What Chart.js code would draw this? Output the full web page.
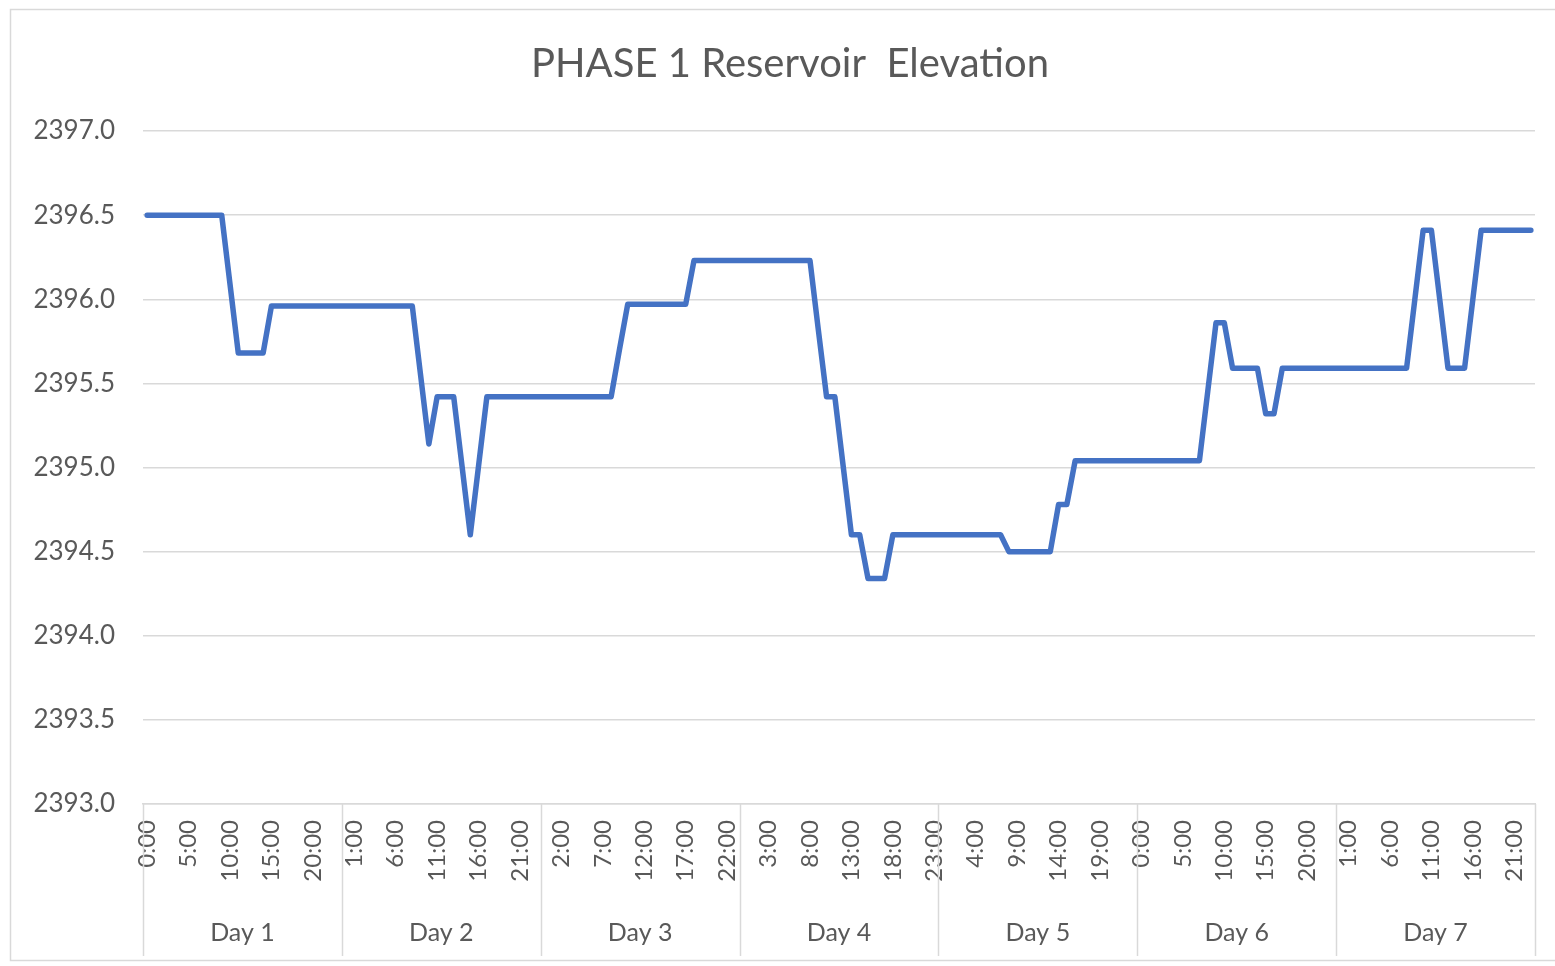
<!DOCTYPE html>
<html>
<head>
<meta charset="utf-8">
<title>PHASE 1 Reservoir Elevation</title>
<script src="https://cdn.jsdelivr.net/npm/chart.js@4.4.1/dist/chart.umd.min.js"></script>
<style>
  html, body { margin: 0; padding: 0; background: #fff; }
  #wrap { width: 1555px; height: 966px; }
</style>
</head>
<body>
<div id="wrap"><canvas id="myChart" width="1555" height="966"></canvas></div>
<script>
// category labels
const days = ["Day 1", "Day 2", "Day 3", "Day 4", "Day 5", "Day 6", "Day 7"];
const hours = [
  "0:00", "1:00", "2:00", "3:00", "4:00", "5:00", "6:00", "7:00",
  "8:00", "9:00", "10:00", "11:00", "12:00", "13:00", "14:00", "15:00",
  "16:00", "17:00", "18:00", "19:00", "20:00", "21:00", "22:00", "23:00",
];
const yTicks = [2393.0, 2393.5, 2394.0, 2394.5, 2395.0, 2395.5, 2396.0, 2396.5, 2397.0];
const chartTitle = "PHASE 1 Reservoir  Elevation";

// hourly reservoir elevation (24 values per day)
const day1 = [2396.5, 2396.5, 2396.5, 2396.5, 2396.5, 2396.5, 2396.5, 2396.5, 2396.5, 2396.5, 2396.09, 2395.68,
  2395.68, 2395.68, 2395.68, 2395.96, 2395.96, 2395.96, 2395.96, 2395.96, 2395.96, 2395.96, 2395.96, 2395.96];
const day2 = [2395.96, 2395.96, 2395.96, 2395.96, 2395.96, 2395.96, 2395.96, 2395.96, 2395.96, 2395.55, 2395.14, 2395.42,
  2395.42, 2395.42, 2395.01, 2394.6, 2395.01, 2395.42, 2395.42, 2395.42, 2395.42, 2395.42, 2395.42, 2395.42];
const day3 = [2395.42, 2395.42, 2395.42, 2395.42, 2395.42, 2395.42, 2395.42, 2395.42, 2395.42, 2395.7, 2395.97, 2395.97,
  2395.97, 2395.97, 2395.97, 2395.97, 2395.97, 2395.97, 2396.23, 2396.23, 2396.23, 2396.23, 2396.23, 2396.23];
const day4 = [2396.23, 2396.23, 2396.23, 2396.23, 2396.23, 2396.23, 2396.23, 2396.23, 2396.23, 2395.82, 2395.42, 2395.42,
  2395.01, 2394.6, 2394.6, 2394.34, 2394.34, 2394.34, 2394.6, 2394.6, 2394.6, 2394.6, 2394.6, 2394.6];
const day5 = [2394.6, 2394.6, 2394.6, 2394.6, 2394.6, 2394.6, 2394.6, 2394.6, 2394.5, 2394.5, 2394.5, 2394.5,
  2394.5, 2394.5, 2394.78, 2394.78, 2395.04, 2395.04, 2395.04, 2395.04, 2395.04, 2395.04, 2395.04, 2395.04];
const day6 = [2395.04, 2395.04, 2395.04, 2395.04, 2395.04, 2395.04, 2395.04, 2395.04, 2395.45, 2395.86, 2395.86, 2395.59,
  2395.59, 2395.59, 2395.59, 2395.32, 2395.32, 2395.59, 2395.59, 2395.59, 2395.59, 2395.59, 2395.59, 2395.59];
const day7 = [2395.59, 2395.59, 2395.59, 2395.59, 2395.59, 2395.59, 2395.59, 2395.59, 2395.59, 2396.0, 2396.41, 2396.41,
  2396.0, 2395.59, 2395.59, 2395.59, 2396.0, 2396.41, 2396.41, 2396.41, 2396.41, 2396.41, 2396.41, 2396.41];

const elevation = [...day1, ...day2, ...day3, ...day4, ...day5, ...day6, ...day7];
const labels = days.flatMap(() => hours);

const GRID = "#d9d9d9";
const TEXT = "#595959";
const FONT = "Lato, 'Open Sans', sans-serif";

// Excel-like frame, title, and the grouped "Day n" row under the hour labels
const dayAxis = {
  id: "dayAxis",
  beforeDraw(chart) {
    const ctx = chart.ctx;
    ctx.save();
    ctx.fillStyle = "#fff";
    ctx.fillRect(0, 0, chart.width, chart.height);
    ctx.strokeStyle = GRID;
    ctx.lineWidth = 1.5;
    ctx.strokeRect(10.5, 9.5, chart.width + 20, 951);
    ctx.fillStyle = TEXT;
    ctx.font = "40px " + FONT;
    ctx.textAlign = "center";
    ctx.textBaseline = "middle";
    ctx.fillText(chartTitle, 790, 64);
    ctx.restore();
  },
  afterDraw(chart) {
    const xs = chart.scales.x;
    const ctx = chart.ctx;
    const per = hours.length;
    const edge = (k) => {
      if (k === 0) return xs.left;
      if (k === labels.length) return xs.right;
      return (xs.getPixelForValue(k - 1) + xs.getPixelForValue(k)) / 2;
    };
    ctx.save();
    ctx.strokeStyle = GRID;
    ctx.lineWidth = 1.5;
    for (let d = 0; d <= days.length; d++) {
      const x = Math.round(edge(d * per)) + 0.5;
      ctx.beginPath();
      ctx.moveTo(x, xs.top);
      ctx.lineTo(x, 956);
      ctx.stroke();
    }
    ctx.fillStyle = TEXT;
    ctx.font = "25px " + FONT;
    ctx.textAlign = "center";
    ctx.textBaseline = "middle";
    days.forEach((name, d) => {
      const cx = (edge(d * per) + edge((d + 1) * per)) / 2;
      ctx.fillText(name, cx, 933);
    });
    ctx.restore();
  },
};

new Chart(document.getElementById("myChart"), {
  type: "line",
  data: {
    labels: labels,
    datasets: [
      {
        label: "Elevation",
        data: elevation,
        borderColor: "#4472c4",
        backgroundColor: "#4472c4",
        borderWidth: 5.5,
        borderJoinStyle: "round",
        borderCapStyle: "round",
        pointRadius: 0,
        tension: 0,
        fill: false,
      },
    ],
  },
  options: {
    responsive: false,
    animation: false,
    devicePixelRatio: 1,
    events: [],
    layout: { padding: { left: 0, right: 20, top: 131, bottom: 0 } },
    plugins: {
      legend: { display: false },
      tooltip: { enabled: false },
      title: { display: false },
    },
    scales: {
      x: {
        type: "category",
        offset: true,
        grid: { display: false, drawTicks: false },
        border: { display: true, color: GRID, width: 1.5 },
        ticks: {
          autoSkip: false,
          minRotation: 90,
          maxRotation: 90,
          padding: 16,
          color: TEXT,
          font: { family: FONT, size: 24 },
          callback: (val, idx) => (idx % 5 === 0 ? labels[idx] : ""),
        },
        afterFit: (scale) => {
          scale.height = 162;
          scale.paddingLeft = 0;
          scale.paddingRight = 0;
        },
      },
      y: {
        min: yTicks[0],
        max: yTicks[yTicks.length - 1],
        afterBuildTicks: (scale) => { scale.ticks = yTicks.map((v) => ({ value: v })); },
        grid: { color: GRID, lineWidth: 1.5, drawTicks: false },
        border: { display: false },
        ticks: {
          padding: 28,
          color: TEXT,
          font: { family: FONT, size: 26 },
          callback: (v) => Number(v).toFixed(1),
        },
        afterFit: (scale) => {
          scale.width = 143;
          scale.paddingTop = 0;
          scale.paddingBottom = 0;
        },
      },
    },
  },
  plugins: [dayAxis],
});
</script>
</body>
</html>
